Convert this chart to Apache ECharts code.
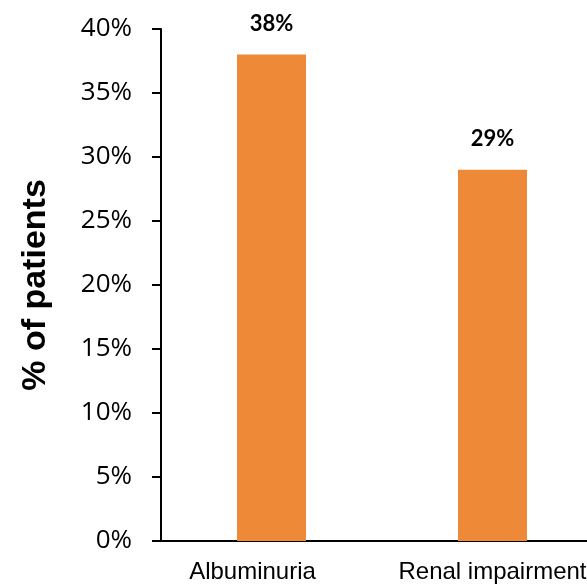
<!DOCTYPE html>
<html>
<head>
<meta charset="utf-8">
<script src="https://cdn.jsdelivr.net/npm/echarts@6/dist/echarts.min.js"></script>
<style>
  html, body { margin: 0; padding: 0; background: #fff; }
  #chart { width: 587px; height: 585px; }
</style>
</head>
<body>
<div id="chart"></div>
<script>
const categories = ['Albuminuria', 'Renal impairment'];
const patientPercent = [38, 29];
const yTicks = { min: 0, max: 40, interval: 5 };

const chartArea = document.getElementById('chart');
const chart = echarts.init(chartArea);

const axis_line_style = { color: '#000', width: 2 };

const options = {
  animation: false,
  grid: {
    left: 161,
    top: 29,
    bottom: 44,
    width: 442,
    outerBoundsMode: 'none'
  },
  xAxis: {
    type: 'category',
    data: categories,
    axisLine: { lineStyle: axis_line_style },
    axisTick: { show: false },
    axisLabel: {
      color: '#000',
      fontFamily: 'Liberation Sans',
      fontSize: 24,
      margin: 19,
      interval: 0,
      hideOverlap: false,
      // the first label sits a little left of its bar in the original
      formatter: function (value, index) {
        return index === 0 ? '{shifted|' + value + '}' : value;
      },
      rich: {
        shifted: {
          color: '#000',
          fontFamily: 'Liberation Sans',
          fontSize: 24,
          padding: [0, 38, 0, 0]
        }
      }
    }
  },
  yAxis: {
    type: 'value',
    min: yTicks.min,
    max: yTicks.max,
    interval: yTicks.interval,
    name: '% of patients',
    nameLocation: 'middle',
    nameGap: 108,
    nameTextStyle: {
      color: '#000',
      fontFamily: 'Liberation Sans',
      fontWeight: 'bold',
      fontSize: 34
    },
    axisLine: { show: true, lineStyle: axis_line_style },
    axisTick: { show: true, length: 9, lineStyle: axis_line_style },
    splitLine: { show: false },
    axisLabel: {
      color: '#000',
      fontFamily: 'Open Sans',
      fontSize: 26,
      margin: 29,
      formatter: '{value}%'
    }
  },
  series: [
    {
      type: 'bar',
      data: patientPercent,
      barWidth: 69,
      itemStyle: { color: '#ee8a37' },
      label: {
        show: true,
        position: 'top',
        distance: 20,
        color: '#000',
        fontFamily: 'Lato',
        fontWeight: 'bold',
        fontSize: 22,
        formatter: function (params) {
          return params.value + '%';
        }
      }
    }
  ]
};
chart.setOption(options);
</script>
</body>
</html>
